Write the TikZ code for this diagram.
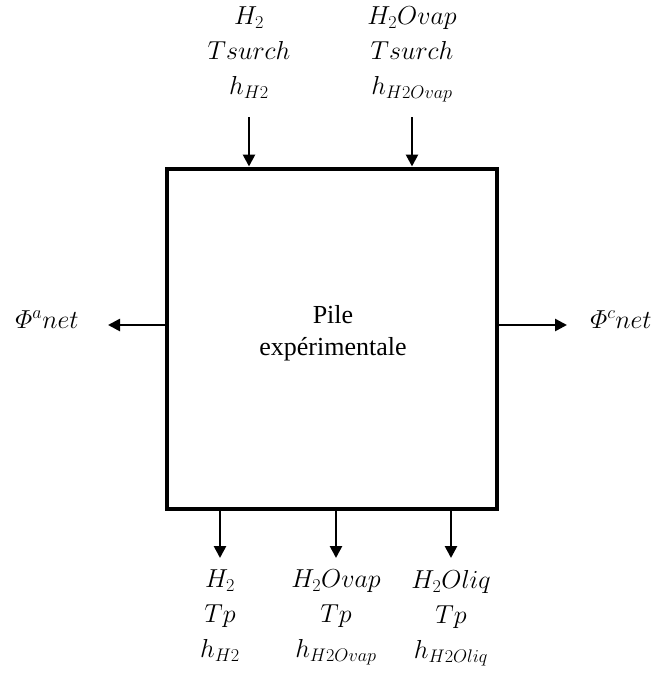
\documentclass[tikz,border=0pt]{standalone}
\usepackage{fix-cm}
\usepackage{amsmath}
\usepackage{fontspec}
\setmainfont{Liberation Serif}
\usetikzlibrary{arrows.meta}
\tikzset{
  flow/.style={line width=2.6pt,-{Triangle[length=12pt,width=12pt]}},
  lab/.style={align=center,inner sep=0pt,font=\fontsize{26}{35}\selectfont},
  box/.style={draw,line width=4pt,minimum width=330pt,minimum height=340pt,inner sep=0pt,
    align=center,font=\fontsize{26}{32}\selectfont}
}
\begin{document}
\begin{tikzpicture}[x=1pt,y=-1pt]
\useasboundingbox (0,0) rectangle (656,673);
\node[box] (pile) at (332,338.5) {};
\node[align=center,inner sep=0pt,font=\fontsize{26}{32}\selectfont,anchor=north] (txt) at (333,305) {Pile\\expérimentale};
% top inputs
\coordinate (t1) at (249,117);
\coordinate (t2) at (412,117);
\draw[flow] (t1) -- (t1 |- pile.north);
\draw[flow] (t2) -- (t2 |- pile.north);
\node[lab,anchor=north] (lt1) at (249,7) {$H_2$\\$Tsurch$\\$h_{H2}$};
\node[lab,anchor=north] (lt2) at (412,7) {$H_2Ovap$\\$Tsurch$\\$h_{H2Ovap}$};
% side outputs
\coordinate (l) at (108,325);
\coordinate (r) at (567,325);
\draw[flow] (pile.west |- l) -- (l);
\draw[flow] (pile.east |- r) -- (r);
\node[lab,anchor=base] (ll) at (47,328) {$\varPhi^a net$};
\node[lab,anchor=base] (lr) at (621,328) {$\varPhi^c net$};
% bottom outputs
\coordinate (b1) at (220,558);
\coordinate (b2) at (336,558);
\coordinate (b3) at (451,558);
\draw[flow] (b1 |- pile.south) -- (b1);
\draw[flow] (b2 |- pile.south) -- (b2);
\draw[flow] (b3 |- pile.south) -- (b3);
\node[lab,anchor=north] (lb1) at (220,570) {$H_2$\\$Tp$\\$h_{H2}$};
\node[lab,anchor=north] (lb2) at (336,570) {$H_2Ovap$\\$Tp$\\$h_{H2Ovap}$};
\node[lab,anchor=north] (lb3) at (451,570) {$H_2Oliq$\\$Tp$\\$h_{H2Oliq}$};
\end{tikzpicture}
\end{document}
